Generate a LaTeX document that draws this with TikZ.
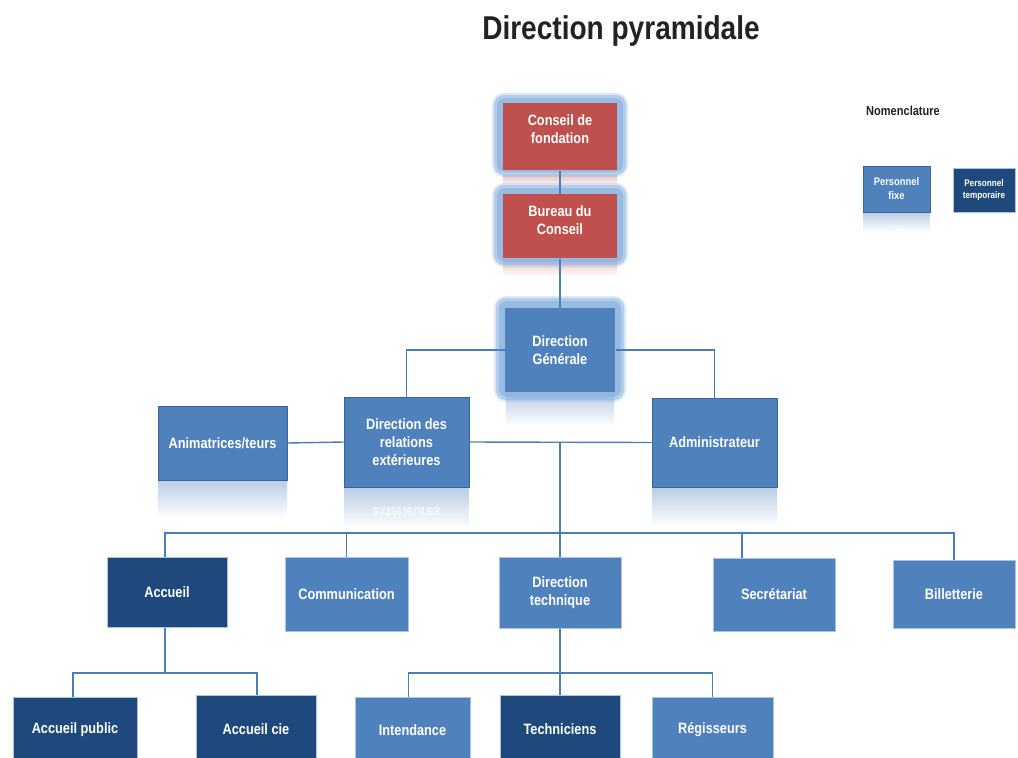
\documentclass[tikz,border=0pt]{standalone}
\usepackage{fontspec}
\setmainfont{Liberation Sans}
\newfontfamily\cond[FakeStretch=0.85]{Liberation Sans}
\definecolor{midblue}{HTML}{4F81BD}
\definecolor{darkblue}{HTML}{1F497D}
\definecolor{redbox}{HTML}{C0504D}
\definecolor{glowblue}{HTML}{8DB4E2}
\definecolor{bordmid}{HTML}{3B6496}
\definecolor{bordlight}{HTML}{A9C3E3}
\definecolor{linec}{HTML}{4A7EBB}
\definecolor{titlec}{HTML}{222222}
\tikzset{
  boxbase/.style={text=white, font=\cond\bfseries\fontsize{15}{18}\selectfont, align=center, inner sep=0pt, line width=1pt},
  midbox/.style={boxbase, fill=midblue, draw=bordmid},
  litbox/.style={boxbase, fill=midblue, draw=bordlight},
  darkbox/.style={boxbase, fill=darkblue, draw=bordlight},
  redb/.style={boxbase, fill=redbox, draw=none},
  conn/.style={draw=linec, line width=1.4pt},
  refl/.style={top color=midblue!40, bottom color=white, draw=none},
  reflred/.style={top color=redbox!35, bottom color=white, draw=none},
}
\begin{document}
\begin{tikzpicture}[x=1pt,y=-1pt]
\useasboundingbox (0,0) rectangle (1018,758);
\clip (0,0) rectangle (1018,758);
\fill[white] (0,0) rectangle (1018,758);

% title
\node[text=titlec] (title) at (621,31) {\cond\bfseries\fontsize{33}{38}\selectfont Direction pyramidale};

% legend
\node[text=titlec] (nom) at (903,111) {\cond\bfseries\fontsize{13}{15}\selectfont Nomenclature};
\shade[refl] (863.5,212) rectangle (929.5,232);
\node[text=white, opacity=0.6, yscale=-1, font=\cond\bfseries\fontsize{11}{13}\selectfont] (pfr) at (896.5,229) {fixe};
\node[midbox, minimum width=67, minimum height=46, font=\cond\bfseries\fontsize{11}{14}\selectfont] (pf) at (896.5,189) {Personnel\\fixe};
\node[darkbox, minimum width=62, minimum height=44, font=\cond\bfseries\fontsize{9.6}{12}\selectfont] (pt) at (984,190) {Personnel\\temporaire};

% reflections
\shade[reflred] (503,175) rectangle (617,186);
\shade[reflred] (503,260) rectangle (617,276);
\shade[refl] (506,392) rectangle (614,426);
\shade[refl] (158,480) rectangle (287,518);
\shade[refl] (344,487) rectangle (469,528);
\node[text=white, opacity=0.7, yscale=-1, font=\cond\bfseries\fontsize{15}{18}\selectfont] (drer) at (406.5,513) {extérieures};
\shade[refl] (652,487) rectangle (777,526);

% glows
\foreach \c/\yy/\h in {560/135/80, 560/225/80} {
  \fill[glowblue, rounded corners=12pt, opacity=0.3] (\c-68,\yy-\h/2-2) rectangle (\c+68,\yy+\h/2+2);
  \fill[glowblue, rounded corners=10pt, opacity=0.5] (\c-66,\yy-\h/2) rectangle (\c+66,\yy+\h/2);
  \fill[glowblue, rounded corners=8pt, opacity=0.7] (\c-63,\yy-\h/2+3) rectangle (\c+63,\yy+\h/2-3);
}
\fill[glowblue, rounded corners=12pt, opacity=0.3] (494,296) rectangle (626,402);
\fill[glowblue, rounded corners=10pt, opacity=0.5] (496,298) rectangle (624,400);
\fill[glowblue, rounded corners=8pt, opacity=0.7] (499,301) rectangle (621,397);

% top boxes
\node[redb, minimum width=114, minimum height=67, text depth=15pt] (cf) at (560,136.5) {Conseil de\\fondation};
\node[redb, minimum width=114, minimum height=64, text depth=12pt] (bc) at (560,226) {Bureau du\\Conseil};
\node[boxbase, fill=midblue, minimum width=110, minimum height=84] (dg) at (560,350) {Direction\\Générale};

% second level
\node[midbox, minimum width=129, minimum height=74] (anim) at (222.5,443) {Animatrices/teurs};
\node[midbox, minimum width=125, minimum height=90] (dre) at (406.5,442) {Direction des\\relations\\extérieures};
\node[midbox, minimum width=125, minimum height=89] (adm) at (714.5,442.5) {Administrateur};

% third level
\node[darkbox, minimum width=120, minimum height=70] (acc) at (167,592) {Accueil};
\node[litbox, minimum width=123, minimum height=74] (com) at (346.5,594) {Communication};
\node[litbox, minimum width=122, minimum height=71] (dt) at (560,592.5) {Direction\\technique};
\node[litbox, minimum width=122, minimum height=73] (sec) at (774,594.5) {Secrétariat};
\node[litbox, minimum width=122, minimum height=68] (bil) at (954,594) {Billetterie};

% fourth level
\node[darkbox, minimum width=124, minimum height=66] (accp) at (75,730) {Accueil public};
\node[darkbox, minimum width=120, minimum height=68] (accc) at (256,729) {Accueil cie};
\node[litbox, minimum width=115, minimum height=66] (int) at (412.5,730) {Intendance};
\node[darkbox, minimum width=120, minimum height=68] (tec) at (560,729) {Techniciens};
\node[litbox, minimum width=121, minimum height=66] (reg) at (712.5,730) {Régisseurs};

% connectors
\coordinate (j1) at (560,442);
\coordinate (b1) at (560,533);
\coordinate (b2) at (165,673);
\coordinate (b3) at (560,673);
\draw[conn] (cf.south) -- (bc.north);
\draw[conn] (bc.south) -- (dg.north);
\draw[conn] (dre.north) |- (dg.west);
\draw[conn] (dg.east) -| (adm.north);
\draw[conn] (anim.east) -- (dre.west);
\draw[conn] (dre.east) -- (adm.west);
\draw[conn] (j1) -- (b1);
\draw[conn] ([xshift=-2pt]acc.north) |- (b1) -| (bil.north);
\draw[conn] (com.north) -- (com.north |- b1);
\draw[conn] (dt.north) -- (b1);
\draw[conn] ([xshift=-32pt]sec.north) -- ([xshift=-32pt]sec.north |- b1);
\draw[conn] ([xshift=-2pt]acc.south) -- (b2);
\draw[conn] ([xshift=-2pt]accp.north) |- (b2) -| ([xshift=1pt]accc.north);
\draw[conn] (dt.south) -- (b3);
\draw[conn] ([xshift=-4pt]int.north) |- (b3) -| (reg.north);
\draw[conn] (tec.north) -- (b3);
\end{tikzpicture}
\end{document}
